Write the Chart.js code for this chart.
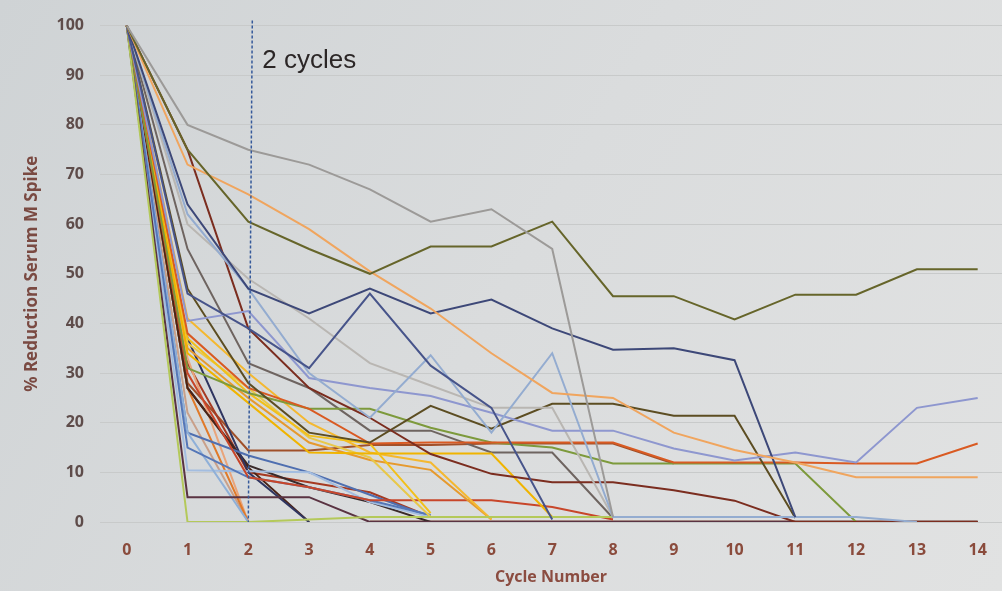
<!DOCTYPE html>
<html>
<head>
<meta charset="utf-8">
<script src="https://cdn.jsdelivr.net/npm/chart.js@4"></script>
<style>
  html, body { margin: 0; padding: 0; background: #dcdedf; }
  #wrap { width: 1002px; height: 591px; position: relative; }
</style>
</head>
<body>
<div id="wrap"><canvas id="mspike"></canvas></div>
<script>
/* global Chart*/
'use strict';

// x axis: cycle number
var cycles = [0, 1, 2, 3, 4, 5, 6, 7, 8, 9, 10, 11, 12, 13, 14];
var yTicks = [0, 10, 20, 30, 40, 50, 60, 70, 80, 90, 100];

// % reduction per patient (lines stop where they end)
var grayTop = [100, 80, 75, 72, 67, 60.5, 63, 55, 1];
var oliveTop = [100, 75, 60.5, 55, 50, 55.5, 55.5, 60.5, 45.5, 45.5, 40.8, 45.8, 45.8, 50.9, 50.9];
var lightOrange = [100, 72, 66, 59, 50.5, 43, 34, 26, 25, 18, 14.5, 12, 9, 9, 9];
var navyA = [100, 64, 47, 42, 47, 42, 44.8, 39, 34.7, 35, 32.6, 1];
var navyB = [100, 46, 39, 31, 46, 31.5, 23, 0.5];
var blueSpike = [100, 62, 47, 30, 21, 33.6, 18, 34, 1, 1, 1, 1, 1, 0];
var periwinkle = [100, 40.5, 42.5, 29, 27, 25.4, 22, 18.4, 18.4, 14.8, 12.4, 14, 12, 23, 25];
var lightGray = [100, 60, 49, 41, 32, 27.5, 23, 23, 1];
var brown = [100, 75, 39, 27, 21, 13.7, 9.7, 8, 8, 6.4, 4.3, 0, 0, 0, 0];
var darkOlive = [100, 47, 28, 18, 16, 23.4, 18.8, 23.8, 23.8, 21.4, 21.4, 0.8];
var orangeRed = [100, 38, 27, 22.8, 15.8, 16, 16, 16, 16, 12, 12, 12, 11.8, 11.8, 15.8];
var green = [100, 31, 26, 22.8, 22.8, 19, 16, 15, 11.8, 11.8, 11.8, 11.8, 0];
var lightGreen = [100, 0, 0, 0.5, 1, 1, 1, 1, 1];
var plum = [100, 5, 5, 5, 0, 0, 0, 0, 0, 0, 0, 0, 0, 0, 0];
var yellow1 = [100, 37, 26, 17.4, 15.8, 1.8];
var yellow2 = [100, 34, 24, 14, 13.8, 13.8, 13.8, 1];
var yellow3 = [100, 36, 27, 17, 13, 1];
var yellow4 = [100, 41, 30, 20, 14, 12, 0.5];
var amber = [100, 35, 25, 16, 12.5, 10.5, 0.5];
var red = [100, 30, 9, 7, 4.4, 4.4, 4.4, 3, 0.5];
var blue2 = [100, 15, 9, 7, 4.4, 1.4];
var paleBlue1 = [100, 18, 0];
var paleBlue2 = [100, 10.4, 10.2, 10, 4, 1];
var blue3 = [100, 18, 13.4, 10, 5.5, 1];
var darkNavy = [100, 37, 10, 0];
var darkBrown = [100, 27, 11, 0];
var orange1 = [100, 27, 0];
var salmon = [100, 33, 0];
var tan = [100, 22, 0];
var taupe = [100, 55, 32, 27, 18.4, 18.4, 14, 14, 0.8];
var charcoal = [100, 27, 11.4, 7, 4, 0];
var rust = [100, 32, 10, 8, 6, 1];
var copper = [100, 28, 14.4, 14.4, 15.5, 15.5, 15.8, 15.8, 15.8, 11.8];
var floor = [null, null, null, null, 0, 0, 0, 0, 0, 0, 0, 0, 0, 0, 0];

var series = [
  [grayTop, '#9c9a98'],
  [oliveTop, '#66652a'],
  [lightOrange, '#f0a55e'],
  [navyA, '#3d4878'],
  [navyB, '#47548a'],
  [blueSpike, '#94acd0'],
  [periwinkle, '#8e97cf'],
  [lightGray, '#b9b6b2'],
  [brown, '#7b2d1f'],
  [darkOlive, '#5c4d22'],
  [orangeRed, '#d95a22'],
  [green, '#7d9a3c'],
  [lightGreen, '#b4c95a'],
  [plum, '#5a3342'],
  [yellow1, '#f2c01a'],
  [yellow2, '#f0b400'],
  [yellow3, '#e8c84a'],
  [yellow4, '#f4b830'],
  [amber, '#e69a2e'],
  [red, '#c8462a'],
  [blue2, '#5577b8'],
  [paleBlue1, '#8fb0d8'],
  [paleBlue2, '#a3bde0'],
  [blue3, '#4f6fb0'],
  [darkNavy, '#2f3560'],
  [darkBrown, '#4a2418'],
  [orange1, '#e07a2a'],
  [salmon, '#e9a47a'],
  [tan, '#c9a08a'],
  [taupe, '#6e6460'],
  [charcoal, '#3a2a2a'],
  [rust, '#a63a22'],
  [copper, '#a0502a'],
  [floor, '#6a3328']
];

var datasets = series.map(function (s) {
  return {
    data: s[0],
    borderColor: s[1],
    backgroundColor: s[1],
    borderWidth: 2,
    pointRadius: 0,
    tension: 0,
    fill: false
  };
});
// thick brownish floor of patients at 0
datasets[datasets.length - 1].borderWidth = 3;

// photo-like background
var paper = {
  id: 'paper',
  beforeDraw: function (chart) {
    var c = chart.ctx;
    var g = c.createLinearGradient(0, 0, chart.width, chart.height);
    g.addColorStop(0, '#cfd3d5');
    g.addColorStop(0.5, '#dadcdd');
    g.addColorStop(1, '#e1e2e2');
    c.save();
    c.fillStyle = g;
    c.fillRect(0, 0, chart.width, chart.height);
    c.restore();
  }
};

// dashed "2 cycles" marker
var cycleMark = {
  id: 'cycleMark',
  afterDatasetsDraw: function (chart) {
    var c = chart.ctx;
    var x = chart.scales.x.getPixelForValue(2) + 2;
    var a = chart.chartArea;
    c.save();
    c.strokeStyle = '#35599a';
    c.lineWidth = 1.5;
    c.setLineDash([3, 2]);
    c.beginPath();
    c.moveTo(x + 2, a.top - 5);
    c.lineTo(x - 2, a.bottom);
    c.stroke();
    c.setLineDash([]);
    c.fillStyle = '#2b2626';
    c.font = '26px "Liberation Sans", Arial, sans-serif';
    c.textBaseline = 'middle';
    c.fillText('2 cycles', x + 12, chart.scales.y.getPixelForValue(93));
    c.restore();
  }
};

new Chart(document.getElementById('mspike'), {
  type: 'line',
  data: {
    labels: cycles,
    datasets: datasets
  },
  options: {
    responsive: true,
    maintainAspectRatio: false,
    animation: false,
    layout: { padding: { top: 22, right: 0, left: 18, bottom: 0 } },
    plugins: {
      legend: { display: false },
      tooltip: { enabled: false }
    },
    scales: {
      x: {
        type: 'linear',
        min: -0.44,
        max: 14.4,
        afterBuildTicks: function (scale) {
          scale.ticks = cycles.map(function (v) { return { value: v }; });
        },
        afterFit: function (scale) { scale.height = 69; },
        grid: { display: false },
        border: { display: false },
        ticks: {
          padding: 11,
          color: '#8a4b3c',
          font: { family: '"Open Sans", sans-serif', size: 16, weight: 'bold' }
        },
        title: {
          display: true,
          text: 'Cycle Number',
          color: '#8b4c40',
          padding: { top: 6 },
          font: { family: '"Open Sans", sans-serif', size: 16, weight: 'bold' }
        }
      },
      y: {
        min: 0,
        max: 100,
        afterBuildTicks: function (scale) {
          scale.ticks = yTicks.map(function (v) { return { value: v }; });
        },
        afterFit: function (scale) { scale.width = 82; },
        grid: { color: '#c8caca', lineWidth: 1, drawTicks: false },
        border: { display: false },
        ticks: {
          padding: 16,
          color: '#5e4c4a',
          font: { family: '"Open Sans", sans-serif', size: 16, weight: 'bold' }
        },
        title: {
          display: true,
          text: '% Reduction Serum M Spike',
          color: '#7a4a42',
          padding: { bottom: 4 },
          font: { family: '"Open Sans", sans-serif', size: 17, weight: 'bold' }
        }
      }
    }
  },
  plugins: [paper, cycleMark]
});
</script>
</body>
</html>
